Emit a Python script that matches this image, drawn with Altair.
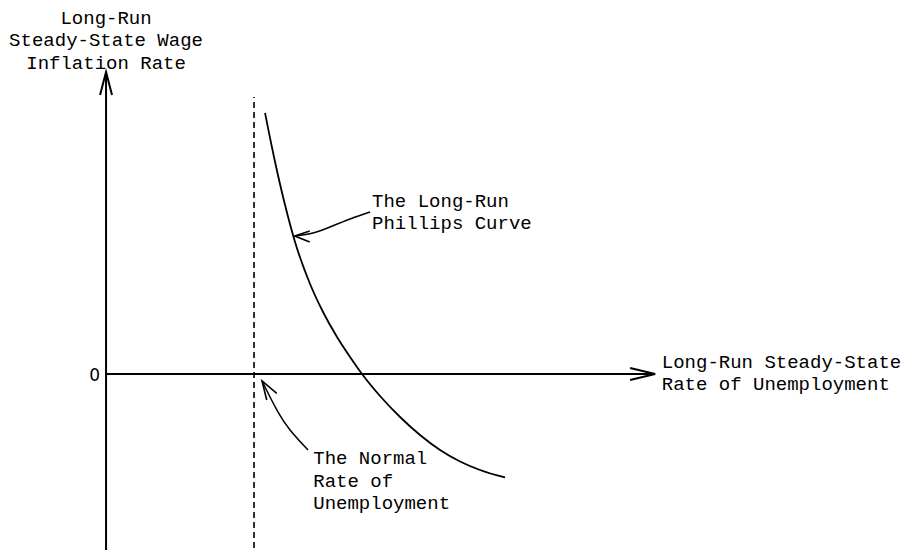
import altair as alt
import pandas as pd

# Long-run Phillips curve (schematic), data units: x = unemployment, y = wage inflation
curve_x = [4.297, 4.568, 4.838, 5.108, 5.514, 5.865, 6.243, 6.595, 6.919,
           7.405, 7.946, 8.486, 9.027, 9.568, 10.108, 10.784]
curve_y = [8.700, 7.067, 5.633, 4.400, 3.000, 2.067, 1.233, 0.567, 0.000,
           -0.733, -1.433, -2.033, -2.533, -2.917, -3.200, -3.450]

natural_rate = 4.0
dash_top = 9.23
axis_bottom = -6.13
y_axis_top = 10.07
x_axis_end = 14.84

# annotation arrows (from label towards target)
arrow1_x = [7.135, 6.595, 6.054, 5.595, 5.10]
arrow1_y = [5.40, 5.167, 4.90, 4.70, 4.60]
arrow2_x = [5.459, 4.973, 4.649, 4.432, 4.216]
arrow2_y = [-2.533, -1.867, -1.267, -0.767, -0.233]

# labels
y_title = "Long-Run\nSteady-State Wage\nInflation Rate"
y_title_pos = (0.0, 11.68)
x_title = "Long-Run Steady-State\nRate of Unemployment"
x_title_pos = (15.02, 0.21)
curve_label = "The Long-Run\nPhillips Curve"
curve_label_pos = (7.19, 5.58)
rate_label = "The Normal\nRate of\nUnemployment"
rate_label_pos = (5.60, -3.01)
zero_label = "0"

FONT = "Liberation Mono"
xs = alt.Scale(domain=[-2.65, 21.54], nice=False, zero=False)
ys = alt.Scale(domain=[-5.867, 12.2], nice=False, zero=False)
X = lambda f="x": alt.X(f"{f}:Q", scale=xs, axis=None)
Y = lambda f="y": alt.Y(f"{f}:Q", scale=ys, axis=None)

axes_df = pd.DataFrame({
    "x": [0.0, 0.0], "x2": [0.0, x_axis_end],
    "y": [axis_bottom, 0.0], "y2": [y_axis_top, 0.0],
})
axes = alt.Chart(axes_df).mark_rule(color="black", strokeWidth=2).encode(
    x=X(), x2="x2:Q", y=Y(), y2="y2:Q")

dash_df = pd.DataFrame({"x": [natural_rate], "y": [axis_bottom], "y2": [dash_top]})
dash = alt.Chart(dash_df).mark_rule(color="black", strokeWidth=1.6, strokeDash=[6, 4]).encode(
    x=X(), y=Y(), y2="y2:Q")

curve_df = pd.DataFrame({"x": curve_x, "y": curve_y})
curve = alt.Chart(curve_df).mark_line(color="black", strokeWidth=1.8, interpolate="monotone").encode(
    x=X(), y=Y())

arr_df = pd.DataFrame({
    "x": arrow1_x + arrow2_x,
    "y": arrow1_y + arrow2_y,
    "id": ["a"] * len(arrow1_x) + ["b"] * len(arrow2_x),
    "o": list(range(len(arrow1_x))) + list(range(len(arrow2_x))),
})
arrows = alt.Chart(arr_df).mark_line(color="black", strokeWidth=1.5, interpolate="natural").encode(
    x=X(), y=Y(), detail="id:N", order="o:Q")

def head(px, py, shape, size, sw=2):
    d = pd.DataFrame({"x": [px], "y": [py]})
    return alt.Chart(d).mark_point(shape=shape, size=size, filled=False, color="black",
                                   strokeWidth=sw, opacity=1).encode(x=X(), y=Y())

heads = [
    head(x_axis_end, 0.0, "M-1,-0.24L0,0L-1,0.24", 2500),
    head(0.0, y_axis_top, "M-0.26,1L0,0L0.26,1", 2116),
    head(arrow1_x[-1], arrow1_y[-1], "M1,-0.33L0,0L1,0.4", 900, 1.6),
    head(arrow2_x[-1], arrow2_y[-1], "M0.735,0.615L0,0L0.235,0.95", 1600, 1.6),
]

def label(text, pos, align, **kw):
    d = pd.DataFrame({"x": [pos[0]], "y": [pos[1]], "t": [text]})
    return alt.Chart(d).mark_text(font=FONT, fontSize=19, color="black", align=align,
                                  baseline="alphabetic", lineBreak="\n", lineHeight=22.5, **kw).encode(
        x=X(), y=Y(), text="t:N")

labels = [
    label(y_title, y_title_pos, "center"),
    label(x_title, x_title_pos, "left"),
    label(curve_label, curve_label_pos, "left"),
    label(rate_label, rate_label_pos, "left"),
]
zero_df = pd.DataFrame({"x": [0.0], "y": [0.0], "t": [zero_label]})
zero = alt.Chart(zero_df).mark_text(font="DejaVu Sans", fontSize=17, color="black", align="right",
                                    baseline="middle", dx=-6, dy=2).encode(x=X(), y=Y(), text="t:N")

chart = alt.layer(axes, dash, curve, arrows, *heads, *labels, zero).properties(
    width=895, height=542, padding=0, autosize=alt.AutoSizeParams(type="none"),
    background="white",
).configure_view(stroke=None)

chart.save("out.html", embed_options={"renderer": "svg", "actions": False})
